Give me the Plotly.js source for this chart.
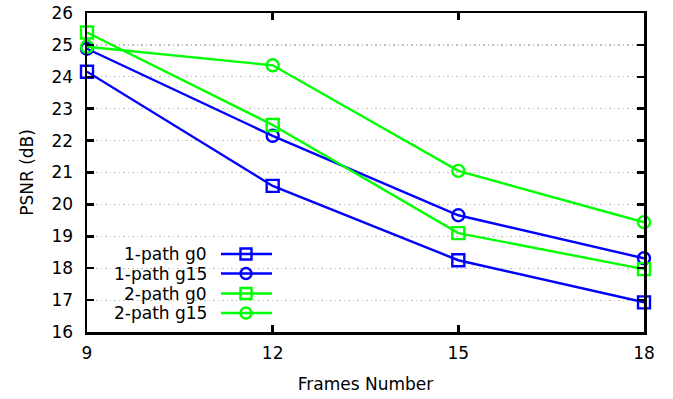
<!DOCTYPE html>
<html><head><meta charset="utf-8">
<script src="https://cdn.plot.ly/plotly-3.0.1.min.js"></script>
<style>html,body{margin:0;padding:0;background:#fff}#chart{width:673px;height:399px}</style>
</head><body><div id="chart"></div>
<script>
const frames = [9, 12, 15, 18];
const seriesNames = ["1-path g0", "1-path g15", "2-path g0", "2-path g15"];
const path1g0 = [24.16, 20.58, 18.25, 16.93];
const path1g15 = [24.88, 22.15, 19.66, 18.31];
const path2g0 = [25.39, 22.49, 19.10, 17.97];
const path2g15 = [24.94, 24.36, 21.05, 19.44];
const yTicks = [16, 17, 18, 19, 20, 21, 22, 23, 24, 25, 26];

const colors = ["#0000ff", "#0000ff", "#00ff00", "#00ff00"];
const symbols = ["square-open", "circle-open", "square-open", "circle-open"];
const values = [path1g0, path1g15, path2g0, path2g15];

const traces = values.map((v, i) => ({
  x: frames, y: v, name: seriesNames[i], type: "scatter", mode: "lines+markers",
  line: {color: colors[i], width: 2.4},
  marker: {symbol: symbols[i], size: 12, color: colors[i], line: {width: 2.4, color: colors[i]}},
  cliponaxis: false, showlegend: false
}));

const font = {family: "DejaVu Sans, sans-serif", size: 17, color: "#000"};
const annotations = [];
const shapes = [];
// custom legend (text left, sample right) in paper coordinates
const W = 673, H = 399, L = 87, R = 29, T = 13, B = 67;
const pw = W - L - R, ph = H - T - B;
const rowY = [254, 273.5, 293.5, 313];
seriesNames.forEach((n, i) => {
  const yp = 1 - (rowY[i] - T) / ph;
  annotations.push({xref: "paper", yref: "paper", x: (209 - L) / pw, y: yp, xanchor: "right", yanchor: "middle",
    text: n, showarrow: false, font: font, bgcolor: "rgba(0,0,0,0)"});
  shapes.push({type: "line", xref: "paper", yref: "paper", x0: (221 - L) / pw, x1: (272 - L) / pw, y0: yp, y1: yp,
    line: {color: colors[i], width: 2.4}});
  const cx = (246 - L) / pw;
  shapes.push({type: symbols[i].startsWith("square") ? "rect" : "circle", xref: "paper", yref: "paper",
    xsizemode: "pixel", ysizemode: "pixel", xanchor: cx, yanchor: yp, x0: -5.5, x1: 5.5, y0: -5.5, y1: 5.5,
    line: {color: colors[i], width: 2.4}, fillcolor: "rgba(0,0,0,0)"});
});
// white legend background
shapes.unshift({type: "rect", xref: "paper", yref: "paper", layer: "below",
  x0: (105 - L) / pw, x1: (282 - L) / pw, y0: 1 - (323 - T) / ph, y1: 1 - (244 - T) / ph,
  line: {width: 0}, fillcolor: "#fff"});

const layout = {
  width: W, height: H, margin: {l: L, r: R, t: T, b: B},
  paper_bgcolor: "#fff", plot_bgcolor: "#fff", font: font, showlegend: false,
  xaxis: {range: [9, 18], tickvals: frames, ticks: "inside", ticklen: 7, tickwidth: 2.5, tickcolor: "#000",
    showline: true, linewidth: 2.5, linecolor: "#000", mirror: "ticks", showgrid: false, zeroline: false,
    ticklabelstandoff: 4,
    title: {text: "Frames Number", font: font, standoff: 16}, tickfont: font},
  yaxis: {range: [16, 26], tickvals: yTicks, ticks: "inside", ticklen: 7, tickwidth: 2.5, tickcolor: "#000",
    showline: true, linewidth: 2.5, linecolor: "#000", mirror: "ticks", showgrid: true, gridcolor: "#bdbdbd",
    griddash: "1.5px,3px", gridwidth: 1.2, zeroline: false,
    ticklabelstandoff: 8,
    title: {text: "PSNR (dB)", font: font, standoff: 14}, tickfont: font},
  annotations: annotations, shapes: shapes
};
Plotly.newPlot("chart", traces, layout, {displayModeBar: false, staticPlot: true});
</script></body></html>
